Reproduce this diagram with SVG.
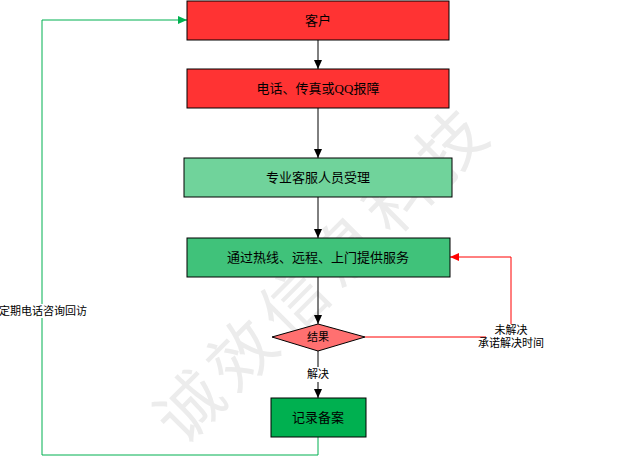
<svg xmlns="http://www.w3.org/2000/svg" width="618" height="465" viewBox="0 0 618 465">
<defs>
<marker id="ab" markerWidth="10" markerHeight="10" refX="9" refY="5" orient="auto" markerUnits="userSpaceOnUse"><path d="M0,1 L9,5 L0,9 Z" fill="#000"/></marker>
<marker id="ar" markerWidth="10" markerHeight="10" refX="9" refY="5" orient="auto" markerUnits="userSpaceOnUse"><path d="M0,1 L9,5 L0,9 Z" fill="#ff0000"/></marker>
<marker id="ag" markerWidth="10" markerHeight="10" refX="9" refY="5" orient="auto" markerUnits="userSpaceOnUse"><path d="M0,1 L9,5 L0,9 Z" fill="#00b050"/></marker>
</defs>
<style>
text{font-family:"Liberation Serif","Noto Sans CJK SC",serif;font-size:13px;text-anchor:middle;fill:#000}
.n{stroke:#000;stroke-width:1}
.s{font-size:11px}
</style>
<rect width="618" height="465" fill="#fff"/>
<text x="340" y="290" transform="rotate(-45 340 290)" style="font-size:66px;fill:#ececec;letter-spacing:8px" font-family="Noto Sans CJK SC">诚效信息科技</text>
<g id="connectors" fill="none">
<line x1="318" y1="40" x2="318" y2="69" stroke="#000" marker-end="url(#ab)"/>
<line x1="318" y1="108" x2="318" y2="158" stroke="#000" marker-end="url(#ab)"/>
<line x1="318" y1="197" x2="318" y2="238" stroke="#000" marker-end="url(#ab)"/>
<line x1="318" y1="277" x2="318" y2="324" stroke="#000" marker-end="url(#ab)"/>
<line x1="318" y1="351" x2="318" y2="367" stroke="#000"/>
<line x1="318" y1="382" x2="318" y2="398" stroke="#000" marker-end="url(#ab)"/>
<polyline points="365,337 486,337" stroke="#ff0000"/>
<polyline points="511,324 511,257 450,257" stroke="#ff0000" marker-end="url(#ar)"/>
<polyline points="318,437 318,455 42,455 42,318" stroke="#00b050"/>
<polyline points="42,304 42,20 187,20" stroke="#00b050" marker-end="url(#ag)"/>
<text x="318" y="378" class="s">解决</text>
<text x="511" y="334" class="s">未解决</text>
<text x="511" y="347" class="s">承诺解决时间</text>
<text x="43" y="315" class="s">定期电话咨询回访</text>
</g>
<g id="n1"><rect class="n" x="187" y="1" width="262" height="39" fill="#ff3333"/><text x="318" y="25">客户</text></g>
<g id="n2"><rect class="n" x="187" y="69" width="262" height="39" fill="#ff3333"/><text x="318" y="93">电话、传真或QQ报障</text></g>
<g id="n3"><rect class="n" x="184" y="158" width="268" height="39" fill="#70d39b"/><text x="318" y="182">专业客服人员受理</text></g>
<g id="n4"><rect class="n" x="187" y="238" width="263" height="39" fill="#40c27a"/><text x="318" y="262">通过热线、远程、上门提供服务</text></g>
<g id="n5"><polygon class="n" points="272,337 318,324 365,337 318,351" fill="#ff7070"/><text x="318" y="341" class="s">结果</text></g>
<g id="n6"><rect class="n" x="271" y="398" width="95" height="39" fill="#00b050"/><text x="318" y="422">记录备案</text></g>
</svg>
